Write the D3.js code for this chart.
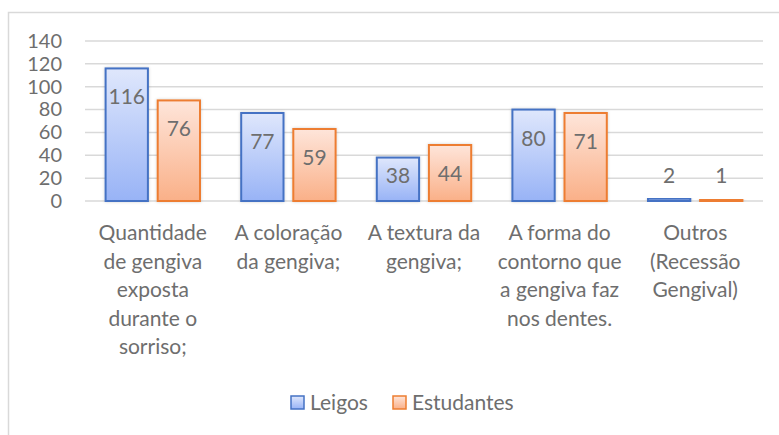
<!DOCTYPE html>
<html>
<head>
<meta charset="utf-8">
<script src="https://cdn.jsdelivr.net/npm/d3@7"></script>
<style>
  body { margin: 0; background: #fff; }
  text { font-family: Lato, 'Open Sans', sans-serif; fill: #6e6e6e; }
</style>
</head>
<body>
<div class="svg-container"></div>
<script>
const categories = [
  ['Quantidade', 'de gengiva', 'exposta', 'durante o', 'sorriso;'],
  ['A coloração', 'da gengiva;'],
  ['A textura da', 'gengiva;'],
  ['A forma do', 'contorno que', 'a gengiva faz', 'nos dentes.'],
  ['Outros', '(Recessão', 'Gengival)']
]
const seriesNames = ['Leigos', 'Estudantes']
// bar heights as drawn in the picture
const leigos = [116, 77, 38, 80, 2]
const estudantes = [88, 63, 49, 77, 1]
// data labels as printed in the picture
const leigosLabels = ['116', '77', '38', '80', '2']
const estudantesLabels = ['76', '59', '44', '71', '1']
const yTicks = [0, 20, 40, 60, 80, 100, 120, 140]

const colors = [
  { stroke: '#4472c4', top: '#dfe7fc', bottom: '#98b3f6' },
  { stroke: '#ed7d31', top: '#fee5da', bottom: '#fab088' }
]

const width = 779, height = 435
const plot = { left: 85, right: 763, top: 41, bottom: 201 }

const svg = d3.select('.svg-container').append('svg')
  .attr('width', width)
  .attr('height', height)

const defs = svg.append('defs')
colors.forEach((c, i) => {
  const g = defs.append('linearGradient')
    .attr('id', 'grad' + i)
    .attr('x1', 0).attr('y1', 0).attr('x2', 0).attr('y2', 1)
  g.append('stop').attr('offset', '0%').attr('stop-color', c.top)
  g.append('stop').attr('offset', '100%').attr('stop-color', c.bottom)
})
const shadow = defs.append('filter').attr('id', 'shadow')
  .attr('x', '-20%').attr('y', '-20%').attr('width', '140%').attr('height', '140%')
shadow.append('feDropShadow')
  .attr('dx', 0).attr('dy', 0).attr('stdDeviation', 1.5)
  .attr('flood-color', '#000').attr('flood-opacity', 0.18)

// chart frame (left and top edges visible)
svg.append('path')
  .attr('d', `M8.5,${height} V12.5 H${width}`)
  .attr('fill', 'none')
  .attr('stroke', '#d9d9d9')
  .attr('stroke-width', 1.5)

const x = d3.scaleBand()
  .domain(d3.range(categories.length))
  .range([plot.left, plot.right])

const y = d3.scaleLinear()
  .domain([0, 140])
  .range([plot.bottom, plot.top])

// gridlines
svg.append('g')
  .selectAll('line')
  .data(yTicks)
  .enter()
  .append('line')
  .attr('x1', plot.left)
  .attr('x2', plot.right)
  .attr('y1', d => y(d))
  .attr('y2', d => y(d))
  .attr('stroke', '#d9d9d9')
  .attr('stroke-width', 1.5)

// y axis labels
const yAxis = svg.append('g')
  .attr('transform', `translate(${plot.left - 23},0)`)
  .call(d3.axisLeft(y).tickValues(yTicks).tickSize(0).tickPadding(0))
yAxis.select('.domain').remove()
yAxis.selectAll('text')
  .style('font-size', '20px')
  .attr('fill', '#6e6e6e')
  .style('font-family', 'Lato, sans-serif')

const barW = 42.3
const offsets = [-47.2, 4.9]
const series = [
  { values: leigos, labels: leigosLabels },
  { values: estudantes, labels: estudantesLabels }
]

series.forEach((s, si) => {
  const g = svg.append('g')
  const bars = g.selectAll('g')
    .data(s.values)
    .enter()
    .append('g')

  bars.append('rect')
    .attr('x', (d, i) => x(i) + x.bandwidth() / 2 + offsets[si])
    .attr('y', d => y(d))
    .attr('width', barW)
    .attr('height', d => y(0) - y(d))
    .attr('fill', `url(#grad${si})`)
    .attr('stroke', colors[si].stroke)
    .attr('stroke-width', 2)
    .attr('filter', 'url(#shadow)')

  bars.append('text')
    .attr('x', (d, i) => x(i) + x.bandwidth() / 2 + offsets[si] + barW / 2)
    .attr('y', d => Math.min(y(d) + 36, y(0) - 18))
    .attr('text-anchor', 'middle')
    .style('font-size', '21px')
    .text((d, i) => s.labels[i])
})

// category labels
const cat = svg.append('g')
  .selectAll('text')
  .data(categories)
  .enter()
  .append('text')
  .attr('text-anchor', 'middle')
  .style('font-size', '21px')
cat.selectAll('tspan')
  .data((d, i) => d.map(line => ({ line, i })))
  .enter()
  .append('tspan')
  .attr('x', d => x(d.i) + x.bandwidth() / 2)
  .attr('y', (d, j) => 240 + j * 28.6)
  .text(d => d.line)

// legend
const legendItems = [
  { name: seriesNames[0], x: 291 },
  { name: seriesNames[1], x: 393 }
]
const legend = svg.append('g')
  .selectAll('g')
  .data(legendItems)
  .enter()
  .append('g')
  .attr('transform', d => `translate(${d.x},396)`)
legend.append('rect')
  .attr('width', 13).attr('height', 13)
  .attr('fill', (d, i) => `url(#grad${i})`)
  .attr('stroke', (d, i) => colors[i].stroke)
  .attr('stroke-width', 1.5)
legend.append('text')
  .attr('x', 19)
  .attr('y', 14)
  .style('font-size', '21px')
  .text(d => d.name)
</script>
</body>
</html>
